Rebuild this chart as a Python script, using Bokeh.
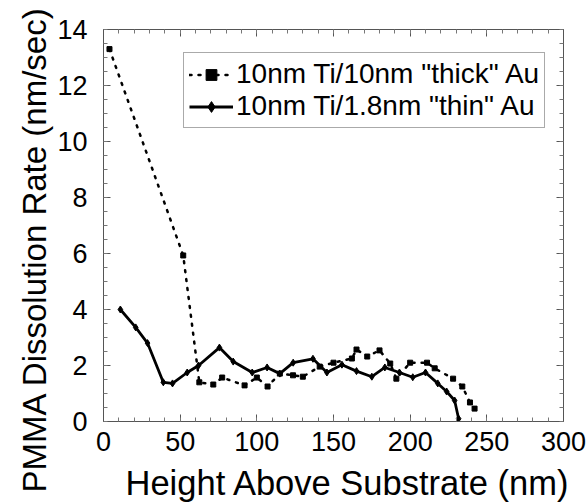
from bokeh.plotting import figure
from bokeh.models import Legend, LegendItem, LinearAxis, FixedTicker, Range1d, Title
from bokeh.embed import file_html
from bokeh.resources import INLINE

# Data
thick_x = [3.9, 52, 62.5, 71.6, 77.4, 92, 100, 107, 115, 123.6, 130, 141, 150, 162, 165, 172, 180, 187, 191, 200, 211, 216, 228, 234, 239, 242]
thick_y = [13.3, 5.93, 1.4, 1.32, 1.57, 1.29, 1.57, 1.25, 1.71, 1.65, 1.6, 1.96, 2.1, 2.25, 2.57, 2.32, 2.54, 2.07, 1.53, 2.1, 2.1, 1.9, 1.53, 1.25, 0.68, 0.46]

thin_x = [11, 21, 28.7, 39, 45, 54.6, 62, 75.6, 84.6, 97, 106.7, 115, 123.7, 136.6, 145.7, 155.5, 165, 175, 183.5, 193, 201.7, 210, 218, 223.8, 229, 231.6]
thin_y = [4.0, 3.36, 2.8, 1.4, 1.36, 1.75, 2.0, 2.64, 2.14, 1.75, 1.93, 1.71, 2.1, 2.24, 1.75, 2.03, 1.8, 1.6, 1.93, 1.75, 1.58, 1.75, 1.36, 1.07, 0.75, 0.1]

x_ticks = [0, 50, 100, 150, 200, 250, 300]
y_ticks = [0, 2, 4, 6, 8, 10, 12, 14]
x_minor = list(range(0, 301, 10))
y_minor = [i * 0.5 for i in range(0, 29)]

label_thick = '10nm Ti/10nm "thick" Au'
label_thin = '10nm Ti/1.8nm "thin" Au'
x_title = "Height Above Substrate (nm)"
y_title = "PMMA Dissolution Rate (nm/sec)"

FONT = "Liberation Sans"

p = figure(width=588, height=504, output_backend="svg", toolbar_location=None,
           x_range=Range1d(0, 300), y_range=Range1d(0, 14),
           frame_width=460, frame_height=392,
           min_border_left=103, min_border_top=29, min_border_right=25, min_border_bottom=83)
p.xgrid.visible = False
p.ygrid.visible = False
p.outline_line_color = "#555555"
p.outline_line_width = 1
p.background_fill_color = "white"
p.border_fill_color = "white"

xt = FixedTicker(ticks=x_ticks, minor_ticks=x_minor)
yt = FixedTicker(ticks=y_ticks, minor_ticks=y_minor)

def style_axis(ax, labels=True):
    ax.axis_line_color = "#555555"
    ax.major_tick_in = 7
    ax.major_tick_out = 0
    ax.minor_tick_in = 4
    ax.minor_tick_out = 0
    ax.major_tick_line_color = "#555555"
    ax.minor_tick_line_color = "#777777"
    ax.major_label_text_font = FONT
    ax.major_label_text_font_size = "27px"
    ax.major_label_text_color = "black"
    if not labels:
        ax.major_label_text_font_size = "0px"
        ax.major_label_text_alpha = 0

p.xaxis.ticker = xt
p.yaxis.ticker = yt
style_axis(p.xaxis[0])
style_axis(p.yaxis[0])
p.xaxis.major_label_standoff = 10
p.yaxis.major_label_standoff = 16

top_ax = LinearAxis(ticker=xt, axis_label=None)
style_axis(top_ax, labels=False)
right_ax = LinearAxis(ticker=yt, axis_label=None)
style_axis(right_ax, labels=False)
p.add_layout(top_ax, "above")
p.add_layout(right_ax, "right")

# Axis titles as side-panel titles, placed like the reference
xt_title = Title(text=x_title, align="left", offset=22, standoff=17,
                 text_font=FONT, text_font_size="34.5px", text_font_style="normal",
                 text_color="black")
yt_title = Title(text=y_title, align="left", offset=-71, standoff=4,
                 text_font=FONT, text_font_size="33px", text_font_style="normal",
                 text_color="black")
p.add_layout(xt_title, "below")
p.add_layout(yt_title, "left")

l1 = p.line(thick_x, thick_y, line_color="black", line_width=2.5, line_dash="2 7", line_cap="round")
s1 = p.scatter(thick_x, thick_y, marker="square", size=5, color="black")
l2 = p.line(thin_x, thin_y, line_color="black", line_width=2.8)
s2 = p.scatter(thin_x, thin_y, marker="diamond", size=7, color="black")

legend = Legend(items=[LegendItem(label=label_thick, renderers=[l1, s1]),
                       LegendItem(label=label_thin, renderers=[l2, s2])],
                location=(80, 293))
legend.label_text_font = FONT
legend.label_text_font_size = "28px"
legend.label_text_color = "black"
legend.glyph_width = 44
legend.glyph_height = 27
legend.label_height = 27
legend.label_standoff = 3
legend.spacing = 0
legend.padding = 5
legend.margin = 0
legend.border_line_color = "#555555"
legend.border_line_width = 1
legend.background_fill_alpha = 1
p.add_layout(legend, "center")

open("out.html", "w").write(file_html(p, INLINE))
